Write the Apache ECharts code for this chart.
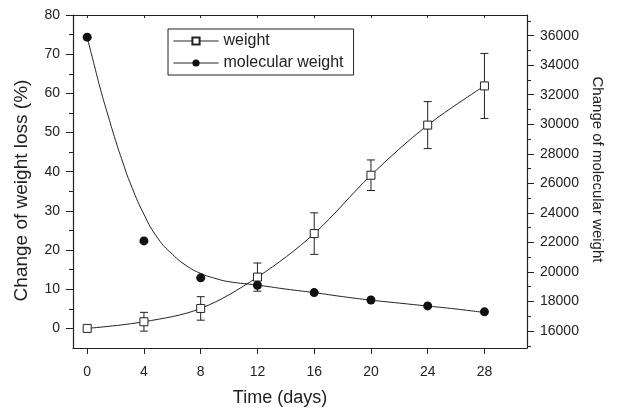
<!DOCTYPE html>
<html>
<head>
<meta charset="utf-8">
<script src="https://cdn.jsdelivr.net/npm/echarts@6/dist/echarts.min.js"></script>
<style>
  html, body { margin: 0; padding: 0; background: #fff; }
  #chart { width: 620px; height: 412px; }
</style>
</head>
<body>
<div id="chart"></div>
<script>
// measured points
var days = [0, 4, 8, 12, 16, 20, 24, 28];
var weightLoss = [0, 1.7, 5.1, 13.1, 24.2, 39.1, 51.9, 61.9];
var weightErr = [0, 2.4, 3.0, 3.6, 5.3, 3.9, 6.0, 8.3];
var molWeight = [35900, 22100, 19600, 19100, 18600, 18100, 17700, 17300];

// fitted curve for molecular weight
var fitDays = [0, 0.5, 1, 1.5, 2, 2.5, 3, 4, 5, 6, 7, 8, 9, 10, 12, 14, 16, 18, 20, 22, 24, 26, 28];
var fitMolWeight = [35900, 34000, 32150, 30500, 28900, 27450, 26100, 23900, 22250, 21200, 20420,
  19900, 19570, 19340, 19110, 18840, 18600, 18330, 18090, 17890, 17690, 17490, 17250];

// tick labels
var dayTicks = [0, 4, 8, 12, 16, 20, 24, 28];
var lossTicks = [0, 10, 20, 30, 40, 50, 60, 70, 80];
var lossMinor = [5, 15, 25, 35, 45, 55, 65, 75];
var mwTicks = [16000, 18000, 20000, 22000, 24000, 26000, 28000, 30000, 32000, 34000, 36000];
var mwMinor = [15000, 17000, 19000, 21000, 23000, 25000, 27000, 29000, 31000, 33000, 35000, 37000];

var FONT = '"Liberation Sans", Arial, sans-serif';
var INK = '#222';

function pairs(xs, ys) {
  return xs.map(function (x, i) { return [x, ys[i]]; });
}

function renderErr(params, api) {
  var x = api.value(0), y = api.value(1), e = api.value(2);
  if (!e) return { type: 'group', children: [] };
  var top = api.coord([x, y + e]);
  var bot = api.coord([x, y - e]);
  var st = { stroke: INK, lineWidth: 1 };
  return {
    type: 'group',
    children: [
      { type: 'line', shape: { x1: top[0], y1: top[1], x2: bot[0], y2: bot[1] }, style: st },
      { type: 'line', shape: { x1: top[0] - 4, y1: top[1], x2: top[0] + 4, y2: top[1] }, style: st },
      { type: 'line', shape: { x1: bot[0] - 4, y1: bot[1], x2: bot[0] + 4, y2: bot[1] }, style: st }
    ]
  };
}

var axisLine = { show: true, onZero: false, lineStyle: { color: INK, width: 1.2 } };
var noLine = { show: false, onZero: false };
var plain = function (v) { return String(v); };
var label = { color: INK, fontSize: 14, fontFamily: FONT, formatter: plain };
var legendLine = { width: 1, opacity: 1, color: INK, type: 'solid' };

var chart = echarts.init(document.getElementById('chart'));
chart.setOption({
  animation: false,
  backgroundColor: '#fff',
  textStyle: { fontFamily: FONT, color: INK },
  grid: { left: 73, right: 93, top: 15, bottom: 63 },
  legend: {
    left: 168, top: 29, orient: 'vertical',
    itemWidth: 45, itemHeight: 9, itemGap: 6,
    padding: [4, 10, 4, 5],
    borderColor: INK, borderWidth: 1,
    textStyle: { fontSize: 16, color: INK, fontFamily: FONT },
    lineStyle: legendLine,
    data: [
      { name: 'weight', lineStyle: legendLine },
      { name: 'molecular weight', lineStyle: legendLine }
    ]
  },
  xAxis: [
    {
      type: 'value', min: -1, max: 31, position: 'bottom',
      name: 'Time (days)', nameLocation: 'middle', nameGap: 41,
      nameTextStyle: { fontSize: 18, color: INK, fontFamily: FONT, padding: [0, 40, 0, 0] },
      axisLine: axisLine,
      axisTick: { show: true, length: 6, customValues: dayTicks, lineStyle: { color: INK } },
      axisLabel: Object.assign({ margin: 17, customValues: dayTicks }, label),
      splitLine: { show: false }
    },
    {
      type: 'value', min: -1, max: 31, position: 'top',
      axisLine: axisLine,
      axisTick: { show: true, inside: true, length: 3, customValues: dayTicks, lineStyle: { color: INK } },
      axisLabel: { show: false },
      splitLine: { show: false }
    }
  ],
  yAxis: [
    {
      type: 'value', min: -5, max: 80, position: 'left',
      name: 'Change of weight loss (%)', nameLocation: 'middle', nameGap: 42,
      nameTextStyle: { fontSize: 19, color: INK, fontFamily: FONT, padding: [0, 18, 0, 0] },
      axisLine: axisLine,
      axisTick: { show: true, length: 7, customValues: lossTicks, lineStyle: { color: INK } },
      axisLabel: Object.assign({ margin: 13, customValues: lossTicks }, label),
      splitLine: { show: false }
    },
    {
      type: 'value', min: 14850, max: 37400, position: 'right',
      name: 'Change of molecular weight', nameLocation: 'middle', nameGap: 56, nameRotate: -90,
      nameTextStyle: { fontSize: 15, color: INK, fontFamily: FONT, padding: [0, 24, 0, 0] },
      axisLine: axisLine,
      axisTick: { show: true, length: 7, customValues: mwTicks, lineStyle: { color: INK } },
      axisLabel: Object.assign({ margin: 13, customValues: mwTicks }, label),
      splitLine: { show: false }
    },
    {
      type: 'value', min: -5, max: 80, position: 'left',
      axisLine: noLine,
      axisTick: { show: true, length: 4, customValues: lossMinor, lineStyle: { color: INK } },
      axisLabel: { show: false },
      splitLine: { show: false }
    },
    {
      type: 'value', min: 14850, max: 37400, position: 'right',
      axisLine: noLine,
      axisTick: { show: true, length: 4, customValues: mwMinor, lineStyle: { color: INK } },
      axisLabel: { show: false },
      splitLine: { show: false }
    }
  ],
  series: [
    {
      name: 'weight error', type: 'custom', xAxisIndex: 0, yAxisIndex: 0,
      renderItem: renderErr, encode: { x: 0, y: 1 }, z: 1,
      data: days.map(function (d, i) { return [d, weightLoss[i], weightErr[i]]; })
    },
    {
      name: 'molecular weight fit', type: 'line', xAxisIndex: 0, yAxisIndex: 1,
      data: pairs(fitDays, fitMolWeight), smooth: 0.5, showSymbol: false,
      lineStyle: { color: INK, width: 1 }, z: 2
    },
    {
      name: 'weight', type: 'line', xAxisIndex: 0, yAxisIndex: 0,
      data: pairs(days, weightLoss), smooth: 0.35,
      symbol: 'rect', symbolSize: 8,
      itemStyle: { color: '#fff', borderColor: INK, borderWidth: 1 },
      lineStyle: { color: INK, width: 1 }, z: 3
    },
    {
      name: 'molecular weight', type: 'line', xAxisIndex: 0, yAxisIndex: 1,
      data: pairs(days, molWeight),
      symbol: 'circle', symbolSize: 9,
      itemStyle: { color: '#111' },
      lineStyle: { width: 0, opacity: 0 }, z: 4
    }
  ]
});
</script>
</body>
</html>
